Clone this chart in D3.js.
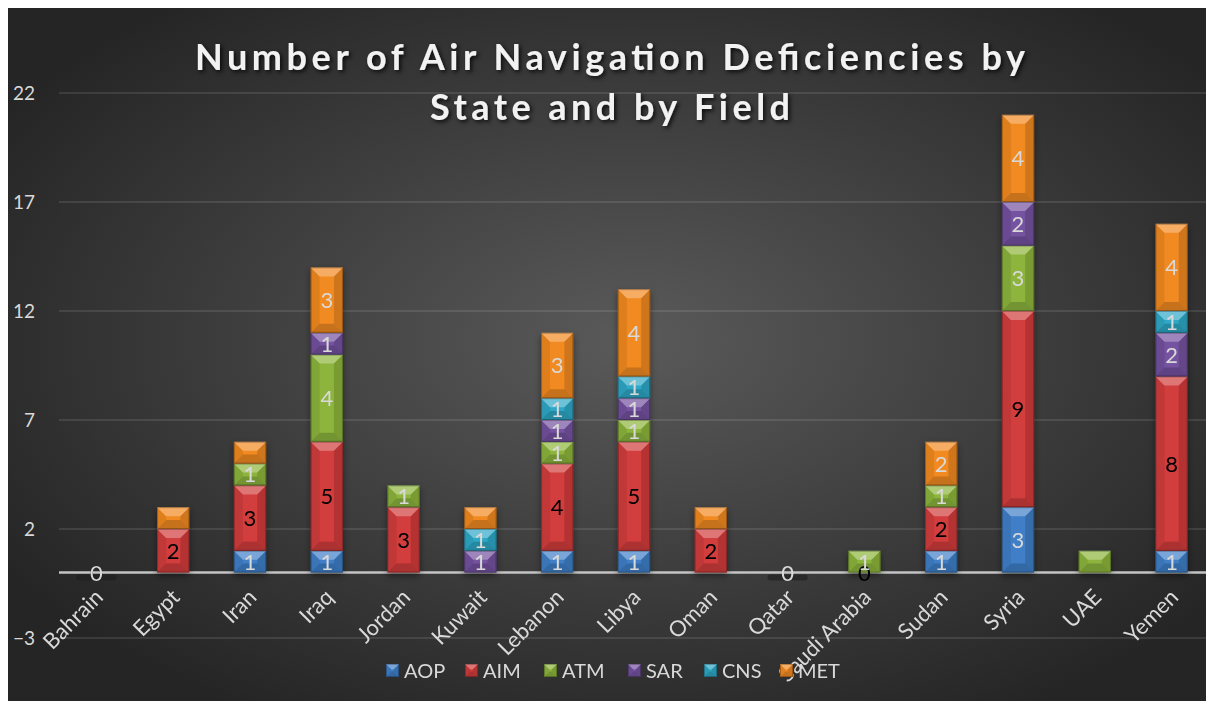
<!DOCTYPE html>
<html lang="en">
<head>
<meta charset="utf-8">
<title>Air Navigation Deficiencies</title>
<script src="https://d3js.org/d3.v7.min.js"></script>
<style>
  body { margin: 0; background: #fff; }
  text { font-family: Lato, "Open Sans", sans-serif; }
</style>
</head>
<body>
<div id="chart"></div>
<script>
// categories
var states = ["Bahrain", "Egypt", "Iran", "Iraq", "Jordan", "Kuwait", "Lebanon", "Libya",
              "Oman", "Qatar", "Saudi Arabia", "Sudan", "Syria", "UAE", "Yemen"];
var fields = ["AOP", "AIM", "ATM", "SAR", "CNS", "MET"];

// series values (null = no entry)
var AOP = [null, null, 1, 1, null, null, 1, 1, null, null, null, 1, 3, null, 1];
var AIM = [0, 2, 3, 5, 3, null, 4, 5, 2, null, 0, 2, 9, null, 8];
var ATM = [null, null, 1, 4, 1, null, 1, 1, null, null, 1, 1, 3, 1, null];
var SAR = [null, null, null, 1, null, 1, 1, 1, null, null, null, null, 2, null, 2];
var CNS = [null, null, null, null, null, 1, 1, 1, null, null, null, null, null, null, 1];
var MET = [0, 1, 1, 3, null, 1, 3, 4, 1, 0, null, 2, 4, null, 4];

// labels removed in the original chart
var hiddenLabels = ["Egypt|MET", "Iran|MET", "Kuwait|MET", "Oman|MET", "UAE|ATM"];

var yTicks = [-3, 2, 7, 12, 17, 22];
var colors = ["#3f7fc8", "#d23c3c", "#8db53c", "#7452a0", "#2fa8c6", "#f28a22"];
var labelColors = ["#d9d9d9", "#000000", "#d9d9d9", "#d9d9d9", "#d9d9d9", "#d9d9d9"];

var series = [AOP, AIM, ATM, SAR, CNS, MET];

var W = 1206, H = 701;
var svg = d3.select("#chart").append("svg").attr("width", W).attr("height", H);

var defs = svg.append("defs");
var rg = defs.append("radialGradient").attr("id", "bg")
  .attr("cx", "52%").attr("cy", "48%").attr("r", "62%");
rg.append("stop").attr("offset", "0%").attr("stop-color", "#5a5a5a");
rg.append("stop").attr("offset", "100%").attr("stop-color", "#252525");

var sh = defs.append("filter").attr("id", "shadow").attr("x", "-20%").attr("y", "-20%").attr("width", "140%").attr("height", "140%");
sh.append("feDropShadow").attr("dx", 0).attr("dy", 3).attr("stdDeviation", 3)
  .attr("flood-color", "#000").attr("flood-opacity", 0.45);

var tsh = defs.append("filter").attr("id", "tshadow");
tsh.append("feDropShadow").attr("dx", 2).attr("dy", 2).attr("stdDeviation", 2)
  .attr("flood-color", "#000").attr("flood-opacity", 0.8);

svg.append("rect").attr("x", 8).attr("y", 8).attr("width", W - 8).attr("height", H - 8)
  .attr("fill", "url(#bg)");

var x = d3.scaleBand().domain(states).range([58, 1210]).paddingInner(0.58).paddingOuter(0.29);
var y = d3.scaleLinear().domain([-3, 22]).range([638, 93]);

// gridlines
svg.append("g").selectAll("line").data(yTicks).join("line")
  .attr("x1", 59).attr("x2", W)
  .attr("y1", d => y(d)).attr("y2", d => y(d))
  .attr("stroke", "#ffffff").attr("stroke-opacity", 0.1).attr("stroke-width", 2);

// y axis
var yAxis = svg.append("g").attr("transform", "translate(40,0)")
  .call(d3.axisLeft(y).tickValues(yTicks).tickSize(0).tickPadding(5));
yAxis.select(".domain").remove();
yAxis.selectAll("text").attr("fill", "#d9d9d9").style("font-size", "19px")
  .style("font-family", "Lato, 'Open Sans', sans-serif");

// zero line
svg.append("line").attr("x1", 59).attr("x2", W).attr("y1", y(0)).attr("y2", y(0))
  .attr("stroke", "#c4c4c4").attr("stroke-width", 2.5);

// stack
var rows = states.map(function (s, i) {
  var r = { state: s };
  fields.forEach(function (f, k) { r[f] = series[k][i] == null ? 0 : series[k][i]; });
  return r;
});
var stacked = d3.stack().keys(fields)(rows);

var bw = x.bandwidth();

function bevel(g, x0, y0, w, h, col) {
  g.append("rect").attr("x", x0).attr("y", y0).attr("width", w).attr("height", h).attr("fill", col);
  var b = Math.min(9, h / 2.4);
  g.append("polygon").attr("points", [[x0, y0], [x0 + b, y0 + b], [x0 + b, y0 + h - b], [x0, y0 + h]].join(" "))
    .attr("fill", "#000").attr("opacity", 0.08);
  g.append("polygon").attr("points", [[x0 + w, y0], [x0 + w - b, y0 + b], [x0 + w - b, y0 + h - b], [x0 + w, y0 + h]].join(" "))
    .attr("fill", "#000").attr("opacity", 0.14);
  g.append("polygon").attr("points", [[x0, y0], [x0 + w, y0], [x0 + w - b, y0 + b], [x0 + b, y0 + b]].join(" "))
    .attr("fill", "#fff").attr("opacity", 0.3);
  g.append("polygon").attr("points", [[x0, y0 + h], [x0 + w, y0 + h], [x0 + w - b, y0 + h - b], [x0 + b, y0 + h - b]].join(" "))
    .attr("fill", "#000").attr("opacity", 0.18);
  g.append("rect").attr("x", x0 + 0.5).attr("y", y0 + 0.5).attr("width", w - 1).attr("height", Math.max(0, h - 1))
    .attr("fill", "none").attr("stroke", "#000").attr("stroke-opacity", 0.25);
}

// empty-bar shadow plates
var zeroCats = ["Bahrain", "Qatar"];
svg.append("g").selectAll("rect").data(zeroCats).join("rect")
  .attr("x", d => x(d) - 4).attr("y", y(0) + 2).attr("width", bw + 8).attr("height", 6)
  .attr("rx", 3).attr("fill", "#1e1e1e").attr("opacity", 0.6);

var barG = svg.append("g").attr("filter", "url(#shadow)");
stacked.forEach(function (layer, k) {
  layer.forEach(function (d, i) {
    var v = series[k][i];
    if (v == null || v === 0) return;
    var y0 = y(d[1]), h = y(d[0]) - y(d[1]);
    bevel(barG, x(states[i]), y0, bw, h, colors[k]);
  });
});

// data labels
var labG = svg.append("g");
stacked.forEach(function (layer, k) {
  layer.forEach(function (d, i) {
    var v = series[k][i];
    if (v == null) return;
    if (hiddenLabels.indexOf(states[i] + "|" + fields[k]) >= 0) return;
    labG.append("text")
      .attr("x", x(states[i]) + bw / 2)
      .attr("y", y((d[0] + d[1]) / 2))
      .attr("dy", "0.36em")
      .attr("text-anchor", "middle")
      .attr("fill", labelColors[k])
      .style("font-size", "22px")
      .text(v);
  });
});

// category labels
svg.append("g").selectAll("text").data(states).join("text")
  .attr("transform", d => "translate(" + (x(d) + bw / 2 + 8) + "," + (y(0) + 26) + ") rotate(-45)")
  .attr("text-anchor", "end")
  .attr("fill", "#d9d9d9")
  .style("font-size", "22px")
  .text(d => d);

// legend
var legX = [386, 465, 544, 628, 704, 780];
var leg = svg.append("g");
fields.forEach(function (f, k) {
  var g = leg.append("g");
  bevel(g, legX[k], 664, 13, 13, colors[k]);
  g.append("text").attr("x", legX[k] + 18).attr("y", 671).attr("dy", "0.36em")
    .attr("fill", "#d9d9d9").style("font-size", "20px").text(f);
});

// title
var title = svg.append("g").attr("filter", "url(#tshadow)");
title.append("text").attr("x", 610).attr("y", 70).attr("text-anchor", "middle")
  .attr("fill", "#f2f2f2").style("font-size", "36px").style("font-weight", "bold")
  .attr("textLength", 830).attr("lengthAdjust", "spacing")
  .text("Number of Air Navigation Deficiencies by");
title.append("text").attr("x", 610).attr("y", 120).attr("text-anchor", "middle")
  .attr("fill", "#f2f2f2").style("font-size", "36px").style("font-weight", "bold")
  .attr("textLength", 360).attr("lengthAdjust", "spacing")
  .text("State and by Field");
</script>
</body>
</html>
